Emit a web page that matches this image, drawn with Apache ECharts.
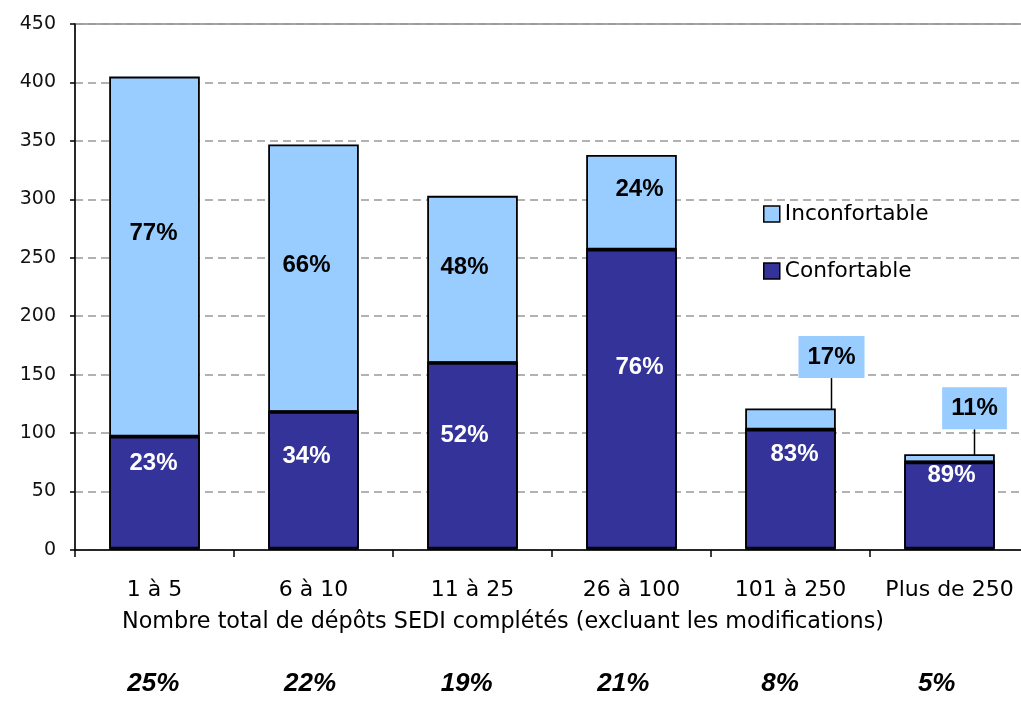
<!DOCTYPE html>
<html><head><meta charset="utf-8">
<script src="https://cdn.jsdelivr.net/npm/echarts@6/dist/echarts.min.js"></script>
<style>html,body{margin:0;padding:0;background:#fff}#c{width:1021px;height:707px}</style>
</head><body><div id="c"></div>
<script>
// ---- data ----
const categories = ['1 à 5', '6 à 10', '11 à 25', '26 à 100', '101 à 250', 'Plus de 250'];
const confortable = [97, 118, 160, 257, 103, 75];
const inconfortable = [308, 229, 143, 81, 18, 7];
const confPct = ['23%', '34%', '52%', '76%', '83%', '89%'];
const inconfPct = ['77%', '66%', '48%', '24%', '17%', '11%'];
const sharePct = ['25%', '22%', '19%', '21%', '8%', '5%'];
const axisTitle = 'Nombre total de dépôts SEDI complétés (excluant les modifications)';
const yMin = 0, yMax = 450, yStep = 50;

// ---- style (label placement tweaks, not data) ----
const confLabelOffset = [[-1, -30], [-7, -25], [-8, -21], [8, -32], [4, -35], [2, -31]];
const inconfLabelShift = [[-1, -23], [-7, -13], [-8, -12], [8, -13], [41, -62], [25, -50]];
const isCallout = [false, false, false, false, true, true];

const FONT = '"DejaVu Sans", Verdana, sans-serif';
const BFONT = '"Liberation Sans", Arial, sans-serif';

const chart = echarts.init(document.getElementById('c'), null, { renderer: 'canvas' });

const option = {
  animation: false,
  backgroundColor: '#fff',
  textStyle: { fontFamily: FONT },
  grid: [{
    left: 75, top: 24, width: 954, height: 526, outerBoundsMode: 'none', containLabel: false,
    show: true, borderColor: '#888', borderWidth: 1.5
  }, {
    left: 75, top: 24, width: 940, height: 526, outerBoundsMode: 'none', containLabel: false, show: false
  }],
  legend: {
    data: ['Inconfortable', 'Confortable'],
    orient: 'vertical', left: 758, top: 198,
    icon: 'rect', itemWidth: 16, itemHeight: 16, itemGap: 35,
    itemStyle: { shadowColor: 'rgba(0,0,0,0)', shadowOffsetY: 0, borderWidth: 1.5 },
    textStyle: { fontSize: 21.7, color: '#000', fontFamily: FONT }
  },
  xAxis: [{
    type: 'category', data: categories, gridIndex: 0,
    axisLine: { lineStyle: { color: '#000', width: 1.5 } },
    axisTick: { show: true, interval: 0, length: 7, lineStyle: { color: '#000', width: 1.5 } },
    axisLabel: { interval: 0, fontSize: 22, color: '#000', margin: 29, fontFamily: FONT },
    splitLine: { show: false },
    name: axisTitle, nameLocation: 'middle', nameGap: 61,
    nameTextStyle: { fontSize: 22.3, color: '#000', fontFamily: FONT, padding: [0, 98, 0, 0] }
  }, {
    type: 'category', data: categories, gridIndex: 1, position: 'bottom', offset: 121,
    axisLine: { show: false }, axisTick: { show: false }, splitLine: { show: false },
    axisLabel: {
      interval: 0, margin: 0, fontSize: 26, fontWeight: 'bold', fontStyle: 'italic', color: '#000', fontFamily: BFONT,
      formatter: (v, i) => sharePct[i]
    }
  }],
  yAxis: [{
    type: 'value', min: yMin, max: yMax, interval: yStep, gridIndex: 0,
    axisLine: { show: true, lineStyle: { color: '#000', width: 1.5 } },
    axisTick: { show: true, length: 5, lineStyle: { color: '#000', width: 1.5 } },
    axisLabel: { fontSize: 19, color: '#111', margin: 19, fontFamily: FONT },
    splitLine: { show: true, lineStyle: { color: '#999', width: 1.5, type: [8, 5] } }
  }, {
    type: 'value', min: yMin, max: yMax, gridIndex: 1, show: false
  }],
  series: [{
    name: 'Confortable', type: 'bar', stack: 'total', barCategoryGap: '43%', z: 3,
    xAxisIndex: 0, yAxisIndex: 0,
    itemStyle: { color: '#333399', borderColor: '#000', borderWidth: 1.8, shadowColor: '#000', shadowOffsetY: -1.5, shadowBlur: 0 },
    label: {
      show: true, position: 'inside', color: '#fff', fontSize: 24, fontWeight: 'bold', fontFamily: BFONT,
      formatter: p => confPct[p.dataIndex]
    },
    data: confortable.map((v, i) => ({ value: v, label: { offset: confLabelOffset[i] } }))
  }, {
    name: 'Inconfortable', type: 'bar', stack: 'total', barCategoryGap: '43%', z: 2,
    xAxisIndex: 0, yAxisIndex: 0,
    itemStyle: { color: '#99CCFF', borderColor: '#000', borderWidth: 1.8 },
    label: {
      show: true, position: 'inside', color: '#000', fontSize: 24, fontWeight: 'bold', fontFamily: BFONT,
      formatter: p => inconfPct[p.dataIndex]
    },
    data: inconfortable.map((v, i) => isCallout[i] ? {
      value: v,
      label: { backgroundColor: '#99CCFF', padding: [9, 9, 9, 9] },
      labelLine: { show: true, lineStyle: { color: '#000', width: 1.5 } }
    } : { value: v }),
    labelLayout: function (p) {
      const s = inconfLabelShift[p.dataIndex];
      return { dx: s[0], dy: s[1] };
    }
  }]
};
chart.setOption(option);
</script>
</body></html>
